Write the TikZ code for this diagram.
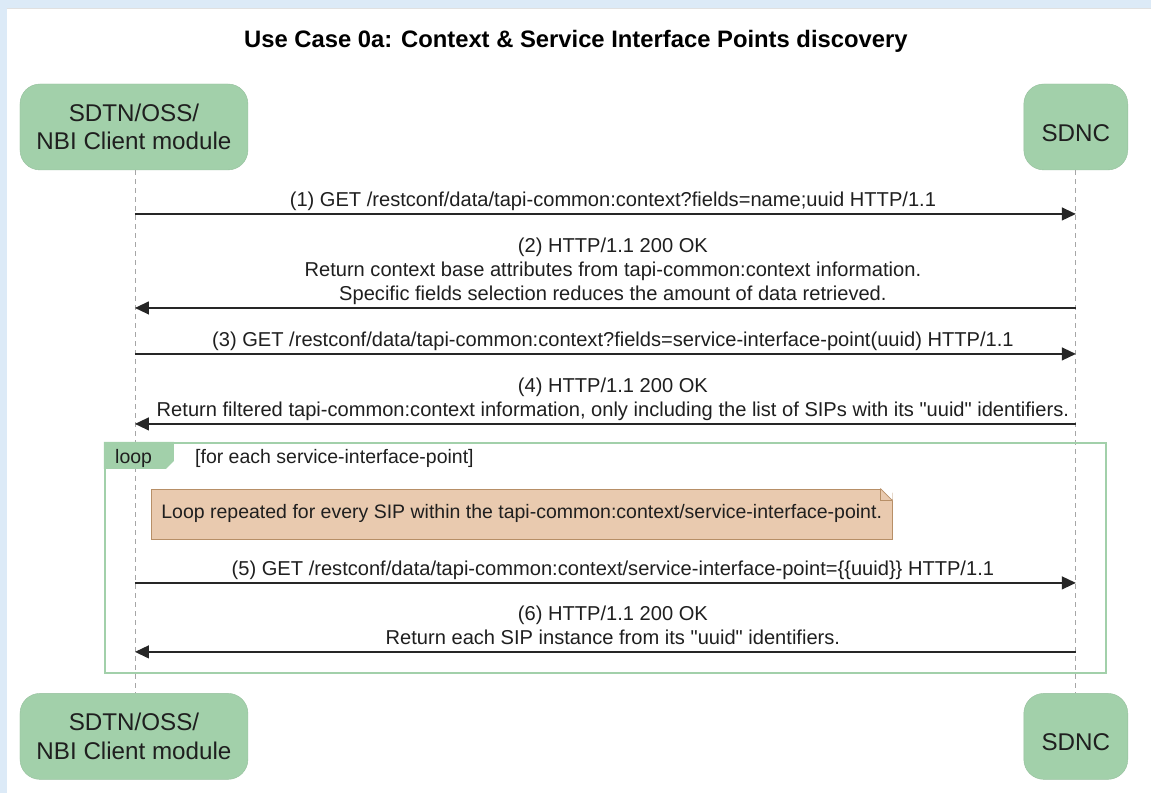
\documentclass[tikz,border=0pt]{standalone}
\usepackage{fontspec}
\setmainfont{Liberation Sans}[Ligatures=TeXOff]
\usetikzlibrary{arrows.meta,positioning}
\definecolor{actorgreen}{RGB}{162,208,170}
\definecolor{notetan}{RGB}{233,202,175}
\definecolor{notebrown}{RGB}{183,143,103}
\definecolor{bgblue}{RGB}{220,234,247}

\begin{document}
\begin{tikzpicture}[x=1pt,y=-1pt,>={Triangle[length=14pt,width=13pt]},
   font=\fontsize{20.1}{24}\selectfont,
   actor/.style={fill=actorgreen,draw=actorgreen!92!black,rounded corners=20pt,minimum height=86pt,
                 align=center,inner sep=0pt,text=black!88,font=\fontsize{24.2}{28.5}\selectfont},
   life/.style={draw=black!35,dash pattern=on 5pt off 4pt,line width=0.8pt},
   msg/.style={->,line width=1.3pt,draw=black!85},
   lbl/.style={anchor=south,align=center,inner sep=0pt,text=black!88},
   small/.style={font=\fontsize{19.5}{23.5}\selectfont,text=black!88},
   loopbox/.style={draw=actorgreen,line width=2pt,minimum width=1001pt,minimum height=230pt,inner sep=0pt},
   notebox/.style={small,fill=notetan,draw=notebrown,line width=0.8pt,minimum height=50pt,inner xsep=10pt}]
  % page
  \fill[bgblue] (0,0) rectangle (1151,793);
  \fill[white] (7,9) rectangle (1151,793);
  \draw[black!12] (7,8.5) -- (1151,8.5);
  \useasboundingbox (0,0) rectangle (1151,793);
  \node[font=\bfseries\fontsize{23.8}{28}\selectfont,anchor=base] (title) at (576,48)
    {Use Case 0a: Context \& Service Interface Points discovery};
  % participants
  \node[actor,minimum width=228pt] (cli) at (134,127) {SDTN/OSS/\\NBI Client module};
  \node[actor,minimum width=104pt] (sdnc) at (1076,127) {\mbox{}\\SDNC};
  \node[actor,minimum width=228pt] (cliB) at (134,736.5) {SDTN/OSS/\\NBI Client module};
  \node[actor,minimum width=104pt] (sdncB) at (1076,736.5) {\mbox{}\\SDNC};
  \draw[life] ([xshift=1pt]cli.south) -- ([xshift=1pt]cliB.north);
  \draw[life] (sdnc) -- (sdncB);
  % loop fragment
  \node[loopbox] (loop) at (605.5,558) {};
  \fill[actorgreen] (loop.north west) -- ++(70,0) -- ++(0,19) -- ++(-8,8) -- ++(-62,0) -- cycle;
  \node[small,anchor=base west,inner sep=0pt] (looptag) at (115,464) {loop};
  \node[small,anchor=base west,inner sep=0pt] (guard) at (195,464) {[for each service-interface-point]};
  \node[notebox,anchor=west] (note) at (151,514)
    {Loop repeated for every SIP within the tapi-common:context/service-interface-point.};
  \fill[white] ([xshift=-12pt]note.north east) -- ([yshift=0.5pt,xshift=0.5pt]note.north east) -- ([yshift=-12pt]note.north east) -- cycle;
  \draw[notebrown,line width=0.8pt] ([xshift=-12pt]note.north east) -- ([yshift=-12pt]note.north east)
    ([xshift=-12pt]note.north east) -- ([xshift=-12pt,yshift=-12pt]note.north east) -- ([yshift=-12pt]note.north east);
  % messages
  \foreach \n/\y in {1/214,2/308,3/354,4/424,5/583,6/652}{
    \coordinate (c\n) at (135,\y);
    \coordinate (s\n) at (1076,\y);}
  \foreach \a/\b in {c1/s1,s2/c2,c3/s3,s4/c4,c5/s5,s6/c6}{\draw[msg] (\a) -- (\b);}
  \node[lbl] (m1) at (613,214) {(1) GET /restconf/data/tapi-common:context?fields=name;uuid HTTP/1.1\strut};
  \node[lbl] (m2) at (613,308) {(2) HTTP/1.1 200 OK\\Return context base attributes from tapi-common:context information.\\Specific fields selection reduces the amount of data retrieved.\strut};
  \node[lbl] (m3) at (613,354) {(3) GET /restconf/data/tapi-common:context?fields=service-interface-point(uuid) HTTP/1.1\strut};
  \node[lbl] (m4) at (613,424) {(4) HTTP/1.1 200 OK\\Return filtered tapi-common:context information, only including the list of SIPs with its "uuid" identifiers.\strut};
  \node[lbl] (m5) at (613,583) {(5) GET /restconf/data/tapi-common:context/service-interface-point=\{\{uuid\}\} HTTP/1.1\strut};
  \node[lbl] (m6) at (613,652) {(6) HTTP/1.1 200 OK\\Return each SIP instance from its "uuid" identifiers.\strut};
\end{tikzpicture}
\end{document}
